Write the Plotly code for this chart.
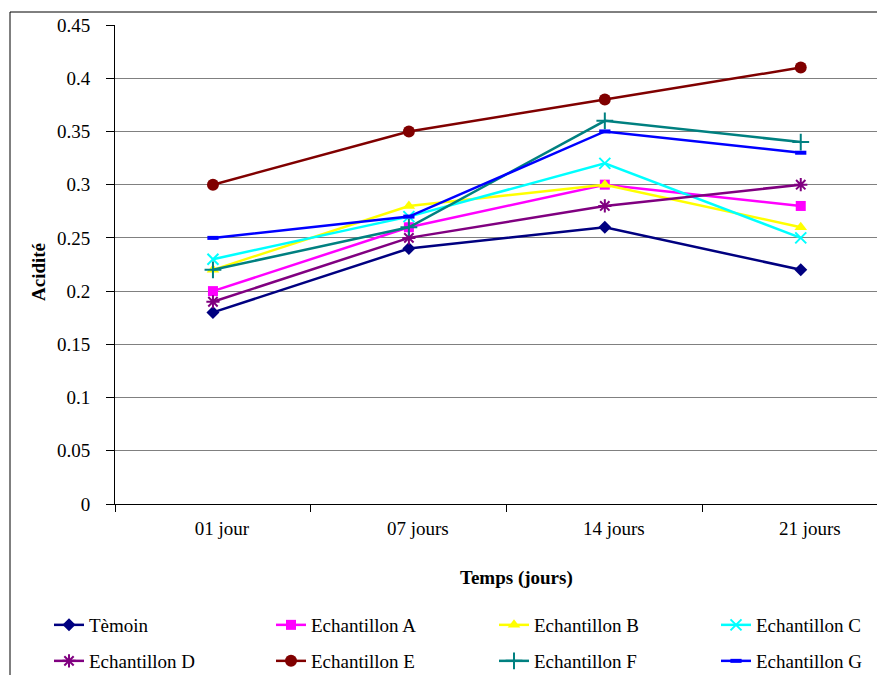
import plotly.graph_objects as go

categories = ["01 jour", "07 jours", "14 jours", "21 jours"]
temoin = [0.18, 0.24, 0.26, 0.22]
ech_a = [0.20, 0.26, 0.30, 0.28]
ech_b = [0.22, 0.28, 0.30, 0.26]
ech_c = [0.23, 0.27, 0.32, 0.25]
ech_d = [0.19, 0.25, 0.28, 0.30]
ech_e = [0.30, 0.35, 0.38, 0.41]
ech_f = [0.22, 0.26, 0.36, 0.34]
ech_g = [0.25, 0.27, 0.35, 0.33]

series = [
    ("Tèmoin", temoin, "#000080", "diamond", 10, 0),
    ("Echantillon A", ech_a, "#FF00FF", "square", 10, 0),
    ("Echantillon B", ech_b, "#FFFF00", "triangle-up", 11, 0),
    ("Echantillon C", ech_c, "#00FFFF", "x-thin-open", 11, 2),
    ("Echantillon D", ech_d, "#800080", "asterisk-open", 11, 2),
    ("Echantillon E", ech_e, "#800000", "circle", 12, 0),
    ("Echantillon F", ech_f, "#008080", "cross-thin-open", 12, 2),
    ("Echantillon G", ech_g, "#0000FF", "line-ew-open", 8, 4),
]

FONT = "Liberation Serif, Times New Roman, serif"
FS = 19

# page body has an 8px margin; figure is sized to fill the rest of the window
OFF = 8
W, H = 885 - OFF, 675 - OFF
# plot area in window pixels: left 115, right 885, top 25, bottom 504
L, R, T, B = 115 - OFF, 0, 25 - OFF, H - (504 - OFF)
pw, ph = 885 - 115, 504 - 25

def px(x):
    return (x - 115) / pw

def py(y):
    return (504 - y) / ph

legend_lefts = [49, 271, 494, 716]
legend_rows = [625, 661]

fig = go.Figure()
layout_legends = {}
for i, (name, vals, color, sym, size, lw) in enumerate(series):
    key = "legend" if i == 0 else f"legend{i + 1}"
    fig.add_trace(go.Scatter(
        x=categories, y=vals, name=name, mode="lines+markers",
        line=dict(color=color, width=2.5),
        marker=dict(symbol=sym, size=size, color=color,
                    line=dict(color=color, width=lw)),
        legend=key,
    ))
    layout_legends[key] = dict(
        x=px(legend_lefts[i % 4]), y=py(legend_rows[i // 4]),
        xanchor="left", yanchor="middle", orientation="h",
        font=dict(family=FONT, size=FS, color="black"),
        bgcolor="rgba(0,0,0,0)", borderwidth=0,
    )

fig.update_layout(
    width=W, height=H,
    margin=dict(l=L, r=R, t=T, b=B, autoexpand=False),
    paper_bgcolor="white", plot_bgcolor="white",
    font=dict(family=FONT, size=FS, color="black"),
    showlegend=True,
    xaxis=dict(
        type="category", range=[-0.5, 3.43], tickson="boundaries",
        ticks="outside", ticklen=7, tickcolor="black",
        showline=True, linecolor="black", linewidth=1,
        showgrid=False, tickfont=dict(family=FONT, size=FS),
        ticklabelstandoff=7, ticklabelshift=9, automargin=False,
    ),
    yaxis=dict(
        range=[0, 0.45], dtick=0.05,
        ticks="outside", ticklen=8, tickcolor="black",
        showline=True, linecolor="black", linewidth=1,
        showgrid=True, gridcolor="#808080", gridwidth=1,
        zeroline=False, tickfont=dict(family=FONT, size=FS),
        ticklabelstandoff=12, automargin=False,
    ),
    annotations=[
        dict(text="<b>Acidité</b>", x=px(38), y=py(272), xref="paper", yref="paper",
             xanchor="center", yanchor="middle",
             textangle=-90, showarrow=False, font=dict(family=FONT, size=FS)),
        dict(text="<b>Temps (jours)</b>", x=px(517), y=py(578), xref="paper", yref="paper",
             xanchor="center", yanchor="middle",
             showarrow=False, font=dict(family=FONT, size=FS)),
    ],
    shapes=[
        dict(type="rect", xref="paper", yref="paper",
             x0=px(10), x1=px(895), y0=py(690), y1=py(12),
             line=dict(color="black", width=1), fillcolor="rgba(0,0,0,0)"),
    ],
    **layout_legends,
)

fig.write_html("out.html")
